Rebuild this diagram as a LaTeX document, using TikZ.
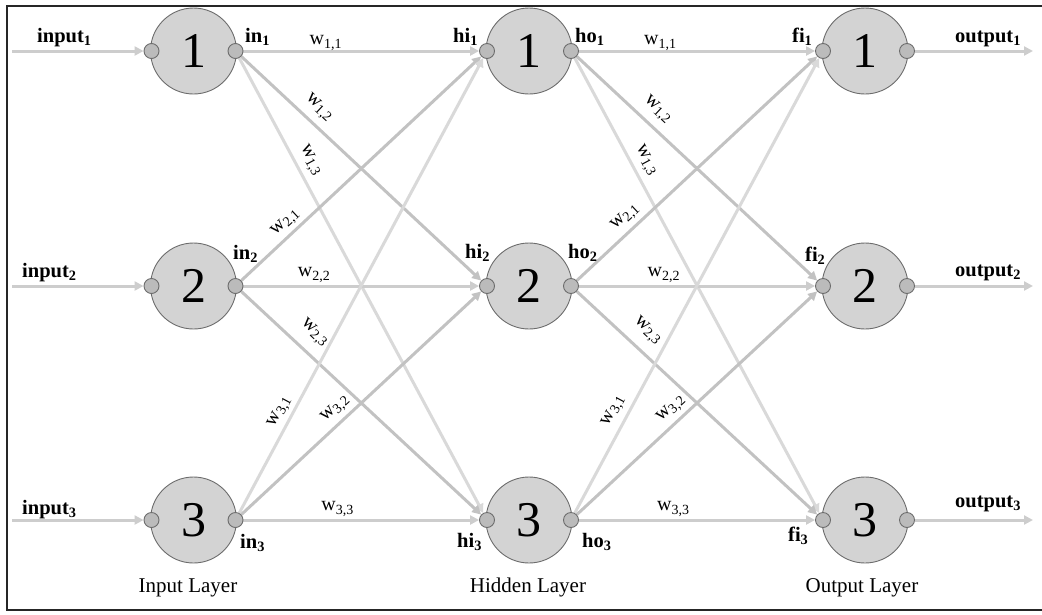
\documentclass[tikz,border=0pt]{standalone}
\usepackage{fontspec}
\setmainfont{Liberation Serif}
\usetikzlibrary{arrows.meta}
\pgfdeclarelayer{bg}
\pgfsetlayers{bg,main}
\definecolor{hcol}{HTML}{CDCDCD}
\definecolor{acol}{HTML}{C2C2C2}
\definecolor{xcol}{HTML}{D9D9D9}
\definecolor{bigfill}{HTML}{D3D3D3}
\definecolor{smallfill}{HTML}{BBBBBB}
\definecolor{rim}{HTML}{6C6C6C}
\begin{document}
\begin{tikzpicture}[x=1pt,y=-1pt,
  neuron/.style={circle, draw=rim, line width=0.9pt, fill=bigfill, minimum size=86pt, inner sep=0pt, font=\fontsize{50}{50}\selectfont},
  port/.style={circle, draw=rim, line width=0.9pt, fill=smallfill, minimum size=15pt, inner sep=0pt},
  conn/.style={line width=3pt, -{Triangle[length=9pt,width=9pt]}},
  wl/.style={sloped, inner sep=0pt, font=\fontsize{20}{20}\selectfont, text=black},
  bl/.style={anchor=base west, inner sep=0pt, font=\fontsize{20.5}{20}\selectfont\bfseries},
  layerlab/.style={anchor=base, inner sep=0pt, font=\fontsize{21}{21}\selectfont}
]
\useasboundingbox (0,0) rectangle (1042,614);
\draw[line width=2.2pt, black!85] (7,6) rectangle (1060,610);

% neurons
\foreach \r/\y in {1/51, 2/286, 3/520} {
  \node[neuron] (a\r) at (193.5,\y) {\r};
  \node[port] (ii\r) at (151.5,\y) {};
  \node[port] (in\r) at (235.5,\y) {};
  \node[neuron] (b\r) at (529,\y) {\r};
  \node[port] (hi\r) at (487,\y) {};
  \node[port] (ho\r) at (571,\y) {};
  \node[neuron] (c\r) at (865,\y) {\r};
  \node[port] (fi\r) at (823,\y) {};
  \node[port] (oo\r) at (907,\y) {};
}
\coordinate (s1) at (12,51);  \coordinate (s2) at (12,286);  \coordinate (s3) at (12,520);
\coordinate (t1) at (1033,51); \coordinate (t2) at (1033,286); \coordinate (t3) at (1033,520);

\begin{pgfonlayer}{bg}
% inputs and outputs
\foreach \r in {1,2,3} {
  \draw[conn, hcol] (s\r) -- (ii\r);
  \draw[conn, hcol] (oo\r) -- (t\r);
}
% input -> hidden
\draw[conn, hcol] (in1) -- node[wl, pos=.35, yshift=8pt] {w\textsubscript{1,1}} (hi1);
\draw[conn, acol] (in1) -- node[wl, pos=.28, yshift=15pt] {w\textsubscript{1,2}} (hi2);
\draw[conn, xcol] (in1) -- node[wl, pos=.24, yshift=14pt] {w\textsubscript{1,3}} (hi3);
\draw[conn, acol] (in2) -- node[wl, pos=.22, yshift=12pt] {w\textsubscript{2,1}} (hi1);
\draw[conn, hcol] (in2) -- node[wl, pos=.30, yshift=11pt] {w\textsubscript{2,2}} (hi2);
\draw[conn, acol] (in2) -- node[wl, pos=.25, yshift=19pt] {w\textsubscript{2,3}} (hi3);
\draw[conn, xcol] (in3) -- node[wl, pos=.21, yshift=12pt] {w\textsubscript{3,1}} (hi1);
\draw[conn, acol] (in3) -- node[wl, pos=.43, yshift=13pt] {w\textsubscript{3,2}} (hi2);
\draw[conn, hcol] (in3) -- node[wl, pos=.40, yshift=11pt] {w\textsubscript{3,3}} (hi3);
% hidden -> output
\draw[conn, hcol] (ho1) -- node[wl, pos=.345, yshift=8pt] {w\textsubscript{1,1}} (fi1);
\draw[conn, acol] (ho1) -- node[wl, pos=.29, yshift=16pt] {w\textsubscript{1,2}} (fi2);
\draw[conn, xcol] (ho1) -- node[wl, pos=.24, yshift=14pt] {w\textsubscript{1,3}} (fi3);
\draw[conn, acol] (ho2) -- node[wl, pos=.24, yshift=13pt] {w\textsubscript{2,1}} (fi1);
\draw[conn, hcol] (ho2) -- node[wl, pos=.36, yshift=11pt] {w\textsubscript{2,2}} (fi2);
\draw[conn, acol] (ho2) -- node[wl, pos=.24, yshift=19pt] {w\textsubscript{2,3}} (fi3);
\draw[conn, xcol] (ho3) -- node[wl, pos=.21, yshift=14pt] {w\textsubscript{3,1}} (fi1);
\draw[conn, acol] (ho3) -- node[wl, pos=.43, yshift=13pt] {w\textsubscript{3,2}} (fi2);
\draw[conn, hcol] (ho3) -- node[wl, pos=.40, yshift=11pt] {w\textsubscript{3,3}} (fi3);
\end{pgfonlayer}

% port labels
\node[bl] (L-i1) at (37,42) {input\textsubscript{1}};
\node[bl] (L-i2) at (22,277) {input\textsubscript{2}};
\node[bl] (L-i3) at (22,514) {input\textsubscript{3}};
\node[bl] (L-n1) at (245,42) {in\textsubscript{1}};
\node[bl] (L-n2) at (233,259) {in\textsubscript{2}};
\node[bl] (L-n3) at (240,548) {in\textsubscript{3}};
\node[bl] (L-h1) at (453,42) {hi\textsubscript{1}};
\node[bl] (L-h2) at (465,258) {hi\textsubscript{2}};
\node[bl] (L-h3) at (457,547) {hi\textsubscript{3}};
\node[bl] (L-o1) at (575,42) {ho\textsubscript{1}};
\node[bl] (L-o2) at (568,258) {ho\textsubscript{2}};
\node[bl] (L-o3) at (582,547) {ho\textsubscript{3}};
\node[bl] (L-f1) at (792,42) {fi\textsubscript{1}};
\node[bl] (L-f2) at (805,261) {fi\textsubscript{2}};
\node[bl] (L-f3) at (788,541) {fi\textsubscript{3}};
\node[bl] (L-u1) at (955,42) {output\textsubscript{1}};
\node[bl] (L-u2) at (955,276) {output\textsubscript{2}};
\node[bl] (L-u3) at (955,507) {output\textsubscript{3}};

% layer labels
\node[layerlab] (lay1) at (188,592) {Input Layer};
\node[layerlab] (lay2) at (528,592) {Hidden Layer};
\node[layerlab] (lay3) at (862,592) {Output Layer};
\end{tikzpicture}
\end{document}
